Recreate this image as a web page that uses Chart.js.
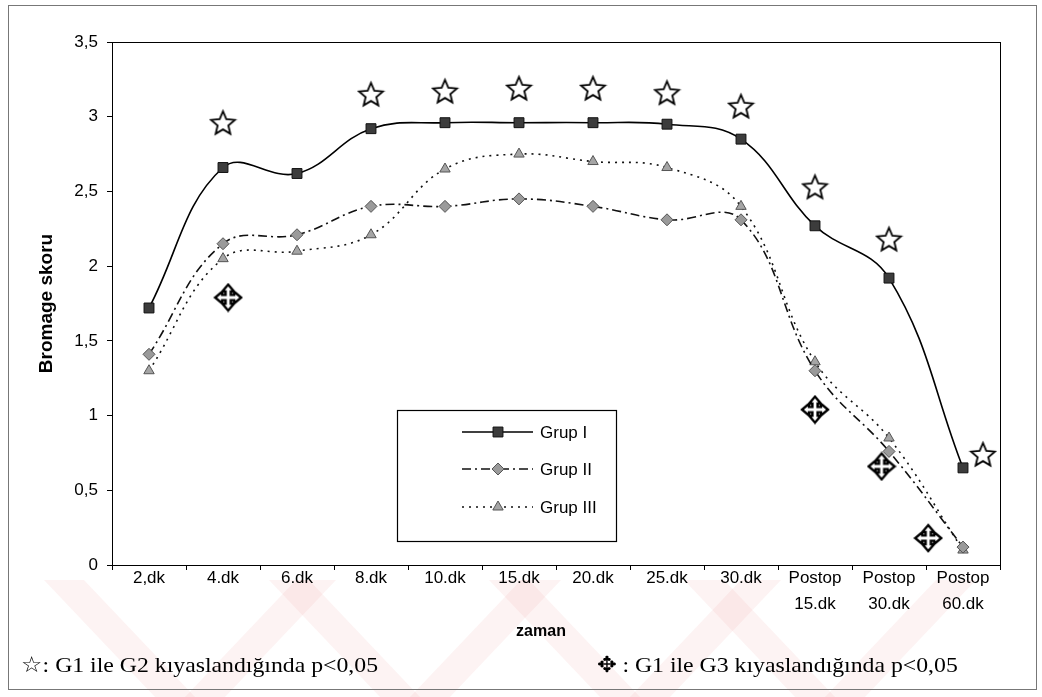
<!DOCTYPE html>
<html>
<head>
<meta charset="utf-8">
<script src="https://cdn.jsdelivr.net/npm/chart.js@4.4.1/dist/chart.umd.min.js"></script>
<style>
  body { margin: 0; background: #fff; overflow: hidden; }
  #wrap { position: relative; width: 1042px; height: 697px; }
  .note { position: absolute; top: 652px; font-family: "Liberation Serif", "DejaVu Serif", serif; font-size: 22px; color: #000; white-space: nowrap; transform: scaleX(1.08); transform-origin: left center; }
</style>
</head>
<body>
<div id="wrap">
  <canvas id="chart" width="1042" height="697"></canvas>
  <div class="note" style="left:21px">☆: G1 ile G2 kıyaslandığında p&lt;0,05</div>
  <div class="note" style="left:597px">✥ : G1 ile G3 kıyaslandığında p&lt;0,05</div>
</div>
<script>
// zaman noktalari
var zaman = ['2,dk', '4.dk', '6.dk', '8.dk', '10.dk', '15.dk', '20.dk', '25.dk', '30.dk',
	['Postop', '15.dk'], ['Postop', '30.dk'], ['Postop', '60.dk']];

var grup1 = [1.72, 2.66, 2.62, 2.92, 2.96, 2.96, 2.96, 2.95, 2.85, 2.27, 1.92, 0.65];
var grup2 = [1.41, 2.15, 2.21, 2.40, 2.40, 2.45, 2.40, 2.31, 2.31, 1.30, 0.76, 0.12];
var grup3 = [1.30, 2.05, 2.10, 2.21, 2.65, 2.75, 2.70, 2.66, 2.40, 1.36, 0.85, 0.10];

// isaretler (x = zaman sirasi)
var yildizX = [1, 3, 4, 5, 6, 7, 8, 9, 10, 11.27];
var yildizY = [2.96, 3.15, 3.17, 3.19, 3.19, 3.16, 3.07, 2.53, 2.18, 0.74];
var haçX = [1.07, 9, 9.9, 10.53];
var haçY = [1.79, 1.04, 0.66, 0.18];

var yTicks = [0, 0.5, 1, 1.5, 2, 2.5, 3, 3.5];

var yazi = '"Liberation Sans", Arial, sans-serif';

function pts(xs, ys) {
	var out = [];
	for (var i in xs) out.push({x: xs[i], y: ys[i]});
	return out;
}

function yildizCiz(r) {
	var c = document.createElement('canvas');
	var s = Math.ceil(r * 2 + 4);
	c.width = s; c.height = s;
	var g = c.getContext('2d');
	g.translate(s / 2, s / 2 + 1);
	g.beginPath();
	for (var i = 0; i < 10; i++) {
		var rad = i % 2 ? r * 0.45 : r;
		var a = -Math.PI / 2 + i * Math.PI / 5;
		g.lineTo(rad * Math.cos(a), rad * Math.sin(a));
	}
	g.closePath();
	g.fillStyle = '#fff'; g.fill();
	g.lineWidth = 1.8; g.strokeStyle = '#000'; g.stroke();
	return c;
}

function haçCiz(R) {
	var c = document.createElement('canvas');
	var s = Math.ceil(R * 2 + 4);
	c.width = s; c.height = s;
	var g = c.getContext('2d');
	g.translate(s / 2, s / 2);
	var b = R * 0.46, h = R * 0.2;
	var p = [[0, -R], [b, -b], [h, -b], [h, -h], [b, -h], [b, -b], [R, 0],
		[b, b], [b, h], [h, h], [h, b], [b, b], [0, R],
		[-b, b], [-h, b], [-h, h], [-b, h], [-b, b], [-R, 0],
		[-b, -b], [-b, -h], [-h, -h], [-h, -b], [-b, -b]];
	g.beginPath();
	p.forEach(function(q, i) { if (i) g.lineTo(q[0], q[1]); else g.moveTo(q[0], q[1]); });
	g.closePath();
	g.fillStyle = '#fff'; g.fill();
	g.lineWidth = 2.4; g.lineJoin = 'miter'; g.strokeStyle = '#000'; g.stroke();
	return c;
}

var arkaPlan = {
	id: 'arkaPlan',
	beforeDraw: function(chart) {
		var ctx = chart.ctx;
		ctx.save();
		ctx.fillStyle = '#fff';
		ctx.fillRect(0, 0, chart.width, chart.height);
		// tarama filigrani
		ctx.beginPath();
		ctx.rect(0, 580, chart.width, chart.height - 580);
		ctx.clip();
		ctx.fillStyle = 'rgba(236, 120, 120, 0.09)';
		[175, 400, 620, 815].forEach(function(b) {
			ctx.beginPath();
			ctx.moveTo(b - 20, 697); ctx.lineTo(b + 20, 697);
			ctx.lineTo(b - 110, 560); ctx.lineTo(b - 150, 560);
			ctx.closePath(); ctx.fill();
			ctx.beginPath();
			ctx.moveTo(b + 10, 697); ctx.lineTo(b + 50, 697);
			ctx.lineTo(b + 180, 560); ctx.lineTo(b + 140, 560);
			ctx.closePath(); ctx.fill();
		});
		ctx.restore();
		ctx.save();
		ctx.strokeStyle = '#777';
		ctx.lineWidth = 1;
		ctx.strokeRect(8.5, 5.5, 1028, 684);
		ctx.restore();
	},
	afterDraw: function(chart) {
		var ctx = chart.ctx, a = chart.chartArea;
		ctx.save();
		ctx.strokeStyle = '#000';
		ctx.lineWidth = 1;
		ctx.strokeRect(Math.round(a.left) + 0.5, Math.round(a.top) + 0.5, Math.round(a.right - a.left), Math.round(a.bottom - a.top));
		// x ekseni basligi
		ctx.fillStyle = '#000';
		ctx.font = 'bold 16px ' + yazi;
		ctx.textAlign = 'center';
		ctx.textBaseline = 'middle';
		ctx.fillText('zaman', 541, 632);
		// legend kutusu
		ctx.fillStyle = '#fff';
		ctx.fillRect(397, 410, 219, 131);
		ctx.lineWidth = 1.2;
		ctx.strokeRect(397.5, 410.5, 219, 131);
		var ys = [432, 469, 507];
		chart.data.datasets.slice(0, 3).forEach(function(ds, i) {
			var y = ys[i];
			ctx.save();
			ctx.strokeStyle = ds.borderColor;
			ctx.lineWidth = ds.borderWidth;
			ctx.setLineDash(ds.borderDash || []);
			ctx.beginPath();
			ctx.moveTo(462, y); ctx.lineTo(533, y);
			ctx.stroke();
			ctx.restore();
			ctx.save();
			ctx.fillStyle = ds.pointBackgroundColor;
			ctx.strokeStyle = ds.pointBorderColor;
			ctx.lineWidth = 1;
			Chart.helpers.drawPoint(ctx, {pointStyle: ds.pointStyle, radius: ds.pointRadius, borderWidth: 1, rotation: 0}, 498, y);
			ctx.restore();
			ctx.fillStyle = '#000';
			ctx.font = '17px ' + yazi;
			ctx.textAlign = 'left';
			ctx.textBaseline = 'middle';
			ctx.fillText(ds.label, 540, y + 1);
		});
		ctx.restore();
	}
};

var ctx = document.getElementById('chart');
var grafik = new Chart(ctx, {
	type: 'line',
	data: {
		labels: zaman,
		datasets: [
			{
				label: 'Grup I',
				data: grup1,
				borderColor: '#000',
				borderWidth: 1.6,
				tension: 0.4,
				pointStyle: 'rect',
				pointRadius: 7,
				pointBackgroundColor: '#3c3c3c',
				pointBorderColor: '#111',
				pointBorderWidth: 1
			},
			{
				label: 'Grup II',
				data: grup2,
				borderColor: '#111',
				borderWidth: 1.6,
				borderDash: [9, 4, 2, 4],
				tension: 0.4,
				pointStyle: 'rectRot',
				pointRadius: 6,
				pointBackgroundColor: '#9a9a9a',
				pointBorderColor: '#555',
				pointBorderWidth: 1
			},
			{
				label: 'Grup III',
				data: grup3,
				borderColor: '#111',
				borderWidth: 1.6,
				borderDash: [2, 5],
				tension: 0.4,
				pointStyle: 'triangle',
				pointRadius: 6,
				pointBackgroundColor: '#a5a5a5',
				pointBorderColor: '#555',
				pointBorderWidth: 1
			},
			{
				type: 'scatter',
				label: 'G1-G2',
				data: pts(yildizX, yildizY),
				xAxisID: 'x2',
				showLine: false,
				pointStyle: yildizCiz(12.5),
				pointRadius: 13
			},
			{
				type: 'scatter',
				label: 'G1-G3',
				data: pts(haçX, haçY),
				xAxisID: 'x2',
				showLine: false,
				pointStyle: haçCiz(13),
				pointRadius: 13
			}
		]
	},
	options: {
		responsive: false,
		animation: false,
		devicePixelRatio: 1,
		layout: { padding: { top: 42, right: 42, bottom: 52, left: 0 } },
		plugins: {
			legend: { display: false },
			tooltip: { enabled: false }
		},
		scales: {
			x: {
				type: 'category',
				offset: true,
				afterFit: function(s) { s.height = 80; },
				border: { color: '#000', width: 1 },
				grid: { offset: true, drawOnChartArea: false, tickLength: 5, color: '#000' },
				ticks: {
					autoSkip: false, maxRotation: 0, padding: -5, color: '#000',
					font: { family: yazi, size: 17, lineHeight: 1.55 }
				}
			},
			x2: {
				type: 'linear',
				display: false,
				min: -0.5,
				max: 11.5
			},
			y: {
				min: 0,
				max: 3.5,
				afterFit: function(s) { s.width = 112; },
				afterBuildTicks: function(s) { s.ticks = yTicks.map(function(v) { return {value: v}; }); },
				border: { color: '#000', width: 1 },
				grid: { drawOnChartArea: false, tickLength: 5, color: '#000' },
				ticks: {
					padding: 9, color: '#000',
					font: { family: yazi, size: 17 },
					callback: function(v) { return String(v).replace('.', ','); }
				},
				title: {
					display: true, text: 'Bromage skoru', color: '#000',
					padding: { top: 35, bottom: 0 },
					font: { family: yazi, size: 19, weight: 'bold' }
				}
			}
		}
	},
	plugins: [arkaPlan]
});
</script>
</body>
</html>
